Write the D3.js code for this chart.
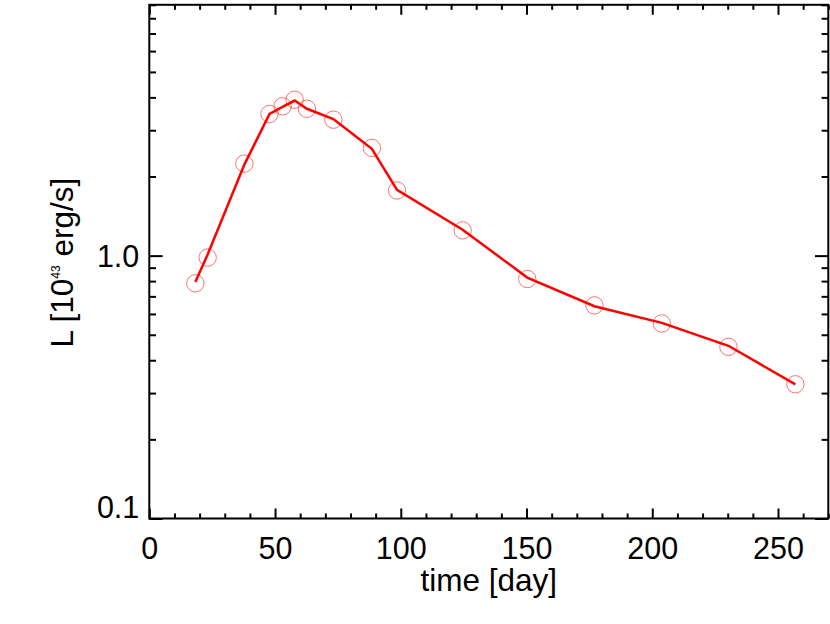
<!DOCTYPE html>
<html>
<head>
<meta charset="utf-8">
<script src="https://cdn.jsdelivr.net/npm/d3@7"></script>
<style>
  html, body { margin: 0; padding: 0; background: #fff; }
  svg { display: block; }
  text { font-family: "Liberation Sans", Arial, Helvetica, sans-serif; fill: #000; }
</style>
</head>
<body>
<svg id="chart" width="830" height="624"></svg>
<script>
// ---- data ----
const days      = [18.3, 23.2, 37.8, 47.8, 53.0, 57.8, 62.7, 73.2, 88.5, 98.5, 124.6, 150.3, 177.0, 203.8, 230.3, 256.9];
const lumObs    = [0.785, 0.983, 2.24, 3.46, 3.70, 3.92, 3.62, 3.29, 2.57, 1.77, 1.248, 0.815, 0.647, 0.552, 0.450, 0.324];
const lumModel  = [0.794, 1.01, 2.22, 3.46, 3.68, 3.89, 3.62, 3.31, 2.55, 1.78, 1.255, 0.825, 0.642, 0.555, 0.454, 0.324];
const xMajorTicks = [0, 50, 100, 150, 200, 250];
const xMinorTicks = d3.range(0, 271, 10);
const yMajorTicks = [0.1, 1.0];
const yMinorTicks = [0.2,0.3,0.4,0.5,0.6,0.7,0.8,0.9,2,3,4,5,6,7,8,9];
const yTickLabels = ["0.1", "1.0"];
const xTitle = "time [day]";

// ---- layout ----
const L = 149.3, R = 828.3, T = 4.8, B = 518.5;
const svg = d3.select("#chart");
const x = d3.scaleLinear().domain([0, 270]).range([L, R]);
const y = d3.scaleLog().domain([0.1, 9]).range([B, T]);

const axisColor = "#000";
const tickW = 2;

function drawXAxis(g, orient) {
  const maker = orient === "bottom" ? d3.axisBottom : d3.axisTop;
  const major = maker(x).tickValues(xMajorTicks).tickSizeInner(-10).tickSizeOuter(0).tickFormat(orient === "bottom" ? d3.format("d") : "");
  const minor = maker(x).tickValues(xMinorTicks.filter(v => !xMajorTicks.includes(v))).tickSizeInner(-5).tickSizeOuter(0).tickFormat("");
  const gMin = g.append("g").call(minor);
  const gMaj = g.append("g").call(major);
  [gMin, gMaj].forEach(gg => {
    gg.select(".domain").remove();
    gg.selectAll(".tick line").attr("stroke", axisColor).attr("stroke-width", tickW);
  });
  gMaj.selectAll(".tick text")
    .attr("font-size", 30.5)
    .attr("dy", null)
    .attr("y", 40.5);
}
function drawYAxis(g, orient) {
  const maker = orient === "left" ? d3.axisLeft : d3.axisRight;
  const major = maker(y).tickValues(yMajorTicks).tickSizeInner(-13.3).tickSizeOuter(0)
    .tickFormat(orient === "left" ? ((d, i) => yTickLabels[i]) : "");
  const minor = maker(y).tickValues(yMinorTicks).tickSizeInner(-6.7).tickSizeOuter(0).tickFormat("");
  const gMin = g.append("g").call(minor);
  const gMaj = g.append("g").call(major);
  [gMin, gMaj].forEach(gg => {
    gg.select(".domain").remove();
    gg.selectAll(".tick line").attr("stroke", axisColor).attr("stroke-width", tickW);
  });
  gMaj.selectAll(".tick text")
    .attr("font-size", 30.5)
    .attr("x", -10)
    .attr("dy", d => (y(d) > B - 5 ? "-0.03em" : "0.35em"));
}

drawXAxis(svg.append("g").attr("transform", `translate(0,${B})`), "bottom");
drawXAxis(svg.append("g").attr("transform", `translate(0,${T})`), "top");
drawYAxis(svg.append("g").attr("transform", `translate(${L},0)`), "left");
drawYAxis(svg.append("g").attr("transform", `translate(${R},0)`), "right");

// frame
svg.append("rect")
  .attr("x", L).attr("y", T).attr("width", R - L).attr("height", B - T)
  .attr("fill", "none").attr("stroke", axisColor).attr("stroke-width", 2);

// model line
const line = d3.line().x((d, i) => x(days[i])).y(d => y(d));
svg.append("path")
  .datum(lumModel)
  .attr("d", line)
  .attr("fill", "none")
  .attr("stroke", "#ff0000")
  .attr("stroke-width", 2.5)
  .attr("stroke-linejoin", "miter");

// observed points
svg.append("g").selectAll("circle")
  .data(lumObs)
  .join("circle")
  .attr("cx", (d, i) => x(days[i]))
  .attr("cy", d => y(d))
  .attr("r", 8.7)
  .attr("fill", "none")
  .attr("stroke", "#ff0000")
  .attr("stroke-opacity", 0.55)
  .attr("stroke-width", 1);

// axis titles
svg.append("text")
  .attr("x", (L + R) / 2)
  .attr("y", 591)
  .attr("text-anchor", "middle")
  .attr("font-size", 31.5)
  .text(xTitle);

const yt = svg.append("text")
  .attr("transform", `translate(73,${(T + B) / 2 + 1}) rotate(-90)`)
  .attr("text-anchor", "middle")
  .attr("font-size", 31.5);
yt.append("tspan").text("L [10");
yt.append("tspan").attr("font-size", 12).attr("dy", -13).text("43");
yt.append("tspan").attr("dy", 13).text(" erg/s]");
</script>
</body>
</html>
